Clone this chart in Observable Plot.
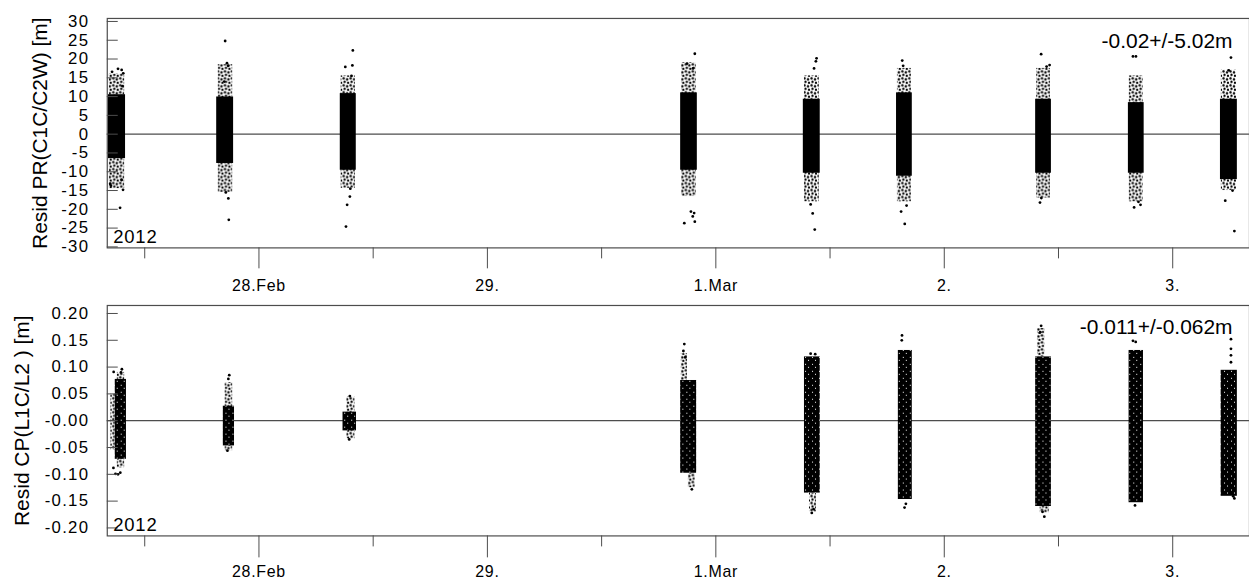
<!DOCTYPE html>
<html><head><meta charset="utf-8">
<script src="https://cdn.jsdelivr.net/npm/d3@7"></script>
<script src="https://cdn.jsdelivr.net/npm/@observablehq/plot@0.6"></script>
<style>
body{margin:0;background:#fff;}
#wrap{width:1249px;height:581px;overflow:hidden;font-family:"Liberation Sans",Arial,sans-serif;}
#wrap svg{display:block;font-family:"Liberation Sans",Arial,sans-serif;}
#wrap g[aria-label="y-axis tick label"] text{letter-spacing:1.3px;}
#wrap g[aria-label="x-axis tick label"] text{letter-spacing:0.7px;}
#wrap g.year text{letter-spacing:0.8px;}
</style></head><body>
<svg width="0" height="0" style="position:absolute" aria-hidden="true">
  <defs>
    <pattern id="tailDots" width="7" height="7" patternUnits="userSpaceOnUse">
      <circle cx="1.5" cy="1.5" r="1.2" fill="black"/>
      <circle cx="5" cy="2.5" r="1.2" fill="black"/>
      <circle cx="2.5" cy="5" r="1.2" fill="black"/>
      <circle cx="6" cy="6" r="1.2" fill="black"/>
    </pattern>
    <pattern id="coreSpeck" width="7" height="7" patternUnits="userSpaceOnUse">
      <rect width="7" height="7" fill="black"/>
      <rect x="2" y="2" width="1" height="1" fill="white"/>
      <rect x="5" y="5" width="1" height="1" fill="white"/>
    </pattern>
  </defs>
</svg>
<div id="wrap"></div>
<script>
// time in days after 27 Feb 2012 00:00
const dayTicks = [1, 2, 3, 4, 5];
const dayLabels = ["28.Feb", "29.", "1.Mar", "2.", "3."];
const halfDayTicks = [0.5, 1.5, 2.5, 3.5, 4.5];
const xDomain = [0.336, 5.336];
const yearLabel = "2012";

// Pseudorange residuals (top)
const prTitle = "Resid PR(C1C/C2W) [m]";
const prStat = "-0.02+/-5.02m";
const prTicks = [30, 25, 20, 15, 10, 5, 0, -5, -10, -15, -20, -25, -30];
const prDomain = [-30.27, 30.8];
// dense cores: [t0, t1, low, high]
const prCore = [
  [0.341, 0.416, -6.5, 10.5],
  [0.815, 0.889, -7.8, 9.9],
  [1.356, 1.426, -9.6, 10.8],
  [2.846, 2.919, -9.6, 11.0],
  [3.383, 3.457, -10.4, 9.3],
  [3.791, 3.860, -11.2, 11.0],
  [4.400, 4.469, -10.4, 9.3],
  [4.806, 4.875, -10.4, 8.4],
  [5.209, 5.283, -12.1, 9.3]
];
// sparse tails: [t0, t1, low, high]
const prTail = [
  [0.345, 0.412, -14.5, 16.0],
  [0.822, 0.885, -15.5, 18.5],
  [1.360, 1.422, -14.4, 15.5],
  [2.850, 2.915, -16.6, 19.0],
  [3.388, 3.453, -18.0, 15.5],
  [3.795, 3.856, -18.0, 17.5],
  [4.404, 4.465, -17.0, 17.5],
  [4.810, 4.871, -18.0, 15.5],
  [5.213, 5.279, -15.0, 17.0]
];
// isolated residuals: [t, value]
const prOut = [
  [0.357, 16.6], [0.383, 17.4], [0.399, 17.1], [0.406, 16.2], [0.402, 12.8],
  [0.349, -13.2], [0.352, -13.7], [0.399, -12.2], [0.405, -14.8], [0.392, -19.6],
  [0.852, 24.8], [0.860, 18.9], [0.865, 18.2], [0.848, 14.0], [0.866, -17.1], [0.868, -22.8], [0.855, -15.5],
  [1.378, 17.9], [1.409, 18.3], [1.411, 22.3], [1.405, 15.5], [1.398, -16.6], [1.386, -18.8], [1.381, -24.6], [1.400, -14.5],
  [2.908, 21.4], [2.874, 18.8], [2.900, 17.5], [2.891, -20.6], [2.905, -21.0], [2.899, -21.9], [2.862, -23.7], [2.908, -23.3],
  [3.441, 20.2], [3.438, 19.4], [3.430, 17.5], [3.424, -21.1], [3.433, -25.4], [3.415, -18.7],
  [3.816, 19.6], [3.820, 18.2], [3.811, -20.6], [3.827, -23.9], [3.835, -19.0],
  [4.424, 21.3], [4.461, 18.4], [4.448, 18.0], [4.419, -18.2], [4.425, -17.0],
  [4.826, 20.7], [4.839, 20.7], [4.831, -19.5], [4.859, -18.8], [4.850, -18.0],
  [5.255, 20.4], [5.245, 17.0], [5.230, -17.7], [5.270, -25.8], [5.262, -15.0]
];

// Carrier-phase residuals (bottom)
const cpTitle = "Resid CP(L1C/L2 ) [m]";
const cpStat = "-0.011+/-0.062m";
const cpTicks = [0.20, 0.15, 0.10, 0.05, 0, -0.05, -0.10, -0.15, -0.20];
const cpTickLabels = ["0.20", "0.15", "0.10", "0.05", "-0.00", "-0.05", "-0.10", "-0.15", "-0.20"];
const cpDomain = [-0.2149, 0.2149];
const cpCore = [
  [0.371, 0.420, -0.072, 0.077],
  [0.844, 0.893, -0.047, 0.027],
  [1.368, 1.427, -0.019, 0.016],
  [2.846, 2.916, -0.098, 0.075],
  [3.388, 3.457, -0.135, 0.119],
  [3.799, 3.860, -0.147, 0.131],
  [4.400, 4.469, -0.160, 0.119],
  [4.809, 4.872, -0.153, 0.131],
  [5.212, 5.283, -0.141, 0.094]
];
const cpTail = [
  [0.352, 0.371, -0.055, 0.050],
  [0.380, 0.412, -0.088, 0.090],
  [0.852, 0.885, -0.056, 0.071],
  [1.385, 1.420, -0.034, 0.044],
  [2.849, 2.876, 0.075, 0.125],
  [2.880, 2.910, -0.125, -0.098],
  [3.410, 3.440, -0.170, -0.135],
  [4.408, 4.440, 0.119, 0.172],
  [4.420, 4.460, -0.172, -0.160]
];
const cpOut = [
  [0.400, 0.096], [0.396, 0.090], [0.364, 0.091], [0.363, -0.088], [0.372, -0.099], [0.383, -0.100], [0.393, -0.097],
  [0.870, 0.085], [0.866, 0.078], [0.862, -0.056],
  [1.398, 0.046], [1.395, -0.035],
  [2.862, 0.143], [2.858, 0.130], [2.866, 0.118], [2.895, -0.128],
  [3.415, 0.125], [3.435, 0.124], [3.420, -0.172], [3.428, -0.165],
  [3.815, 0.159], [3.814, 0.150], [3.826, -0.162], [3.832, -0.155],
  [4.424, 0.177], [4.420, 0.165], [4.438, -0.179], [4.430, -0.170],
  [4.826, 0.149], [4.838, 0.147], [4.835, -0.158],
  [5.255, 0.152], [5.255, 0.134], [5.255, 0.122], [5.255, 0.109], [5.265, -0.141], [5.270, -0.145]
];

const lineColor = "#4d4d4d";

function panel(o) {
  return Plot.plot({
    width: 1252,
    height: o.height,
    marginLeft: 107,
    marginRight: 0,
    marginTop: o.marginTop,
    marginBottom: o.marginBottom,
    style: {fontFamily: '"Liberation Sans", Arial, sans-serif', background: "white", overflow: "visible"},
    x: {domain: xDomain},
    y: {domain: o.domain},
    marks: [
      Plot.ruleY([0], {stroke: lineColor, strokeWidth: 1.2}),
      Plot.rect(o.tail, {x1: d => d[0], x2: d => d[1], y1: d => d[2], y2: d => d[3], fill: "url(#tailDots)"}),
      Plot.rect(o.core, {x1: d => d[0], x2: d => d[1], y1: d => d[2], y2: d => d[3], fill: o.coreFill}),
      Plot.dot(o.out, {x: d => d[0], y: d => d[1], r: 1.4, fill: "black", stroke: null}),
      Plot.frame({stroke: lineColor, strokeWidth: 1.2}),
      Plot.axisY(o.ticks, {anchor: "left", tickSize: 11, dx: 11, fill: "none", stroke: lineColor, label: null}),
      Plot.axisY(o.ticks, {anchor: "left", tickSize: 0, tickPadding: 18, fontSize: 16.8, fill: "black", tickFormat: o.fmt, label: null}),
      Plot.axisX(dayTicks, {anchor: "bottom", tickSize: o.majorLen, fill: "none", stroke: lineColor, label: null}),
      Plot.axisX(halfDayTicks, {anchor: "bottom", tickSize: 11, fill: "none", stroke: lineColor, label: null}),
      Plot.axisX(dayTicks, {anchor: "bottom", tickSize: 0, tickPadding: o.labelPad, fontSize: 16, fill: "black",
        tickFormat: d => dayLabels[dayTicks.indexOf(d)], label: null}),
      Plot.text([o.title], {text: d => d, frameAnchor: "left", rotate: -90, textAnchor: "middle", lineAnchor: "middle",
        dx: o.titleDx, fontSize: 21, fill: "black"}),
      Plot.text([yearLabel], {text: d => d, frameAnchor: "bottom-left", textAnchor: "start", lineAnchor: "bottom",
        dx: 6, dy: -5, fontSize: 18.5, fill: "black", className: "year"}),
      Plot.text([o.stat], {text: d => d, frameAnchor: "top-right", textAnchor: "end", lineAnchor: "bottom",
        dx: -17, dy: o.statDy, fontSize: 21, fill: "black"})
    ]
  });
}

const wrap = document.getElementById("wrap");
wrap.appendChild(panel({
  height: 300, marginTop: 18, marginBottom: 52, domain: prDomain, ticks: prTicks, fmt: d => String(d),
  core: prCore, tail: prTail, out: prOut, majorLen: 21, labelPad: 32, coreFill: "black",
  title: prTitle, titleDx: -67, stat: prStat, statDy: 30
}));
wrap.appendChild(panel({
  height: 281, marginTop: 6, marginBottom: 44, domain: cpDomain, ticks: cpTicks,
  fmt: d => cpTickLabels[cpTicks.indexOf(d)],
  core: cpCore, tail: cpTail, out: cpOut, majorLen: 22, labelPad: 30, coreFill: "url(#coreSpeck)",
  title: cpTitle, titleDx: -85, stat: cpStat, statDy: 29
}));
</script></body></html>
